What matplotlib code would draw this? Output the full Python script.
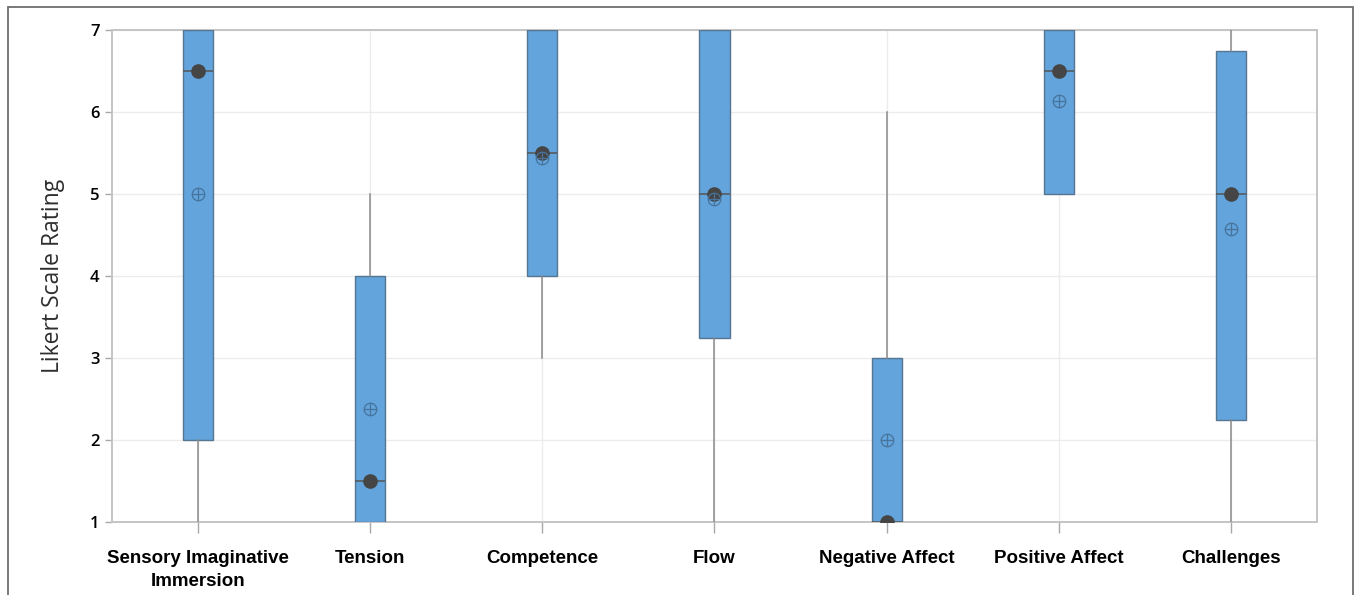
import numpy as np
import matplotlib.pyplot as plt
from matplotlib.patches import Rectangle

categories = ["Sensory Imaginative\nImmersion", "Tension", "Competence", "Flow",
              "Negative Affect", "Positive Affect", "Challenges"]
q1 = [2.0, 1.0, 4.0, 3.25, 1.0, 5.0, 2.25]
median = [6.5, 1.5, 5.5, 5.0, 1.0, 6.5, 5.0]
q3 = [7.0, 4.0, 7.0, 7.0, 3.0, 7.0, 6.75]
mean = [5.0, 2.38, 5.44, 4.94, 2.0, 6.13, 4.57]
whisker_low = [1.0, 1.0, 3.0, 1.0, 1.0, 5.0, 1.0]
whisker_high = [7.0, 5.0, 7.0, 7.0, 6.0, 7.0, 7.0]

box_face = "#62a4db"
box_edge = "#557590"
grid_c = "#ececec"
spine_c = "#c4c4c4"

fig = plt.figure(figsize=(13.56, 5.95), dpi=100)
ax = fig.add_axes([112 / 1356, 1 - 522 / 595, (1317 - 112) / 1356, (522 - 30) / 595])

# outer frame around the whole chart
fig.patches.append(Rectangle((8 / 1356, -0.05), (1353 - 8) / 1356, 1.05 - 7 / 595,
                             transform=fig.transFigure, fill=False,
                             edgecolor="#6e6e6e", lw=1.3, zorder=0))

pos = np.arange(len(categories))
stats = []
for i in range(len(categories)):
    stats.append(dict(q1=q1[i], med=median[i], q3=q3[i], mean=mean[i],
                      whislo=whisker_low[i], whishi=whisker_high[i], fliers=[]))

ax.bxp(stats, positions=pos, widths=0.175, patch_artist=True, showmeans=False,
       showcaps=False,
       boxprops=dict(facecolor=box_face, edgecolor=box_edge, lw=1.0),
       whiskerprops=dict(color="#8a8a8a", lw=1.1),
       medianprops=dict(color="#555555", lw=1.1),
       zorder=3)

ax.plot(pos, median, "o", color="#454545", ms=9.5, zorder=5)
ax.plot(pos, mean, "o", mfc="none", mec="#47739c", mew=0.9, ms=9, zorder=5)
ax.plot(pos, mean, "+", color="#47739c", mew=0.9, ms=9, zorder=5)

ax.set_xlim(-0.5, len(categories) - 0.5)
ax.set_ylim(1, 7)
ax.set_yticks(range(1, 8))
ax.set_xticks(pos)
ax.set_xticklabels(categories, family="Liberation Sans", fontweight="bold", fontsize=13.5,
                   linespacing=1.45)
for lbl in ax.get_yticklabels():
    lbl.set_family("Open Sans")
    lbl.set_fontweight("semibold")
    lbl.set_fontsize(12)

ax.grid(True, color=grid_c, lw=1.0, zorder=0)
ax.set_axisbelow(True)
for s in ax.spines.values():
    s.set_color(spine_c)
    s.set_linewidth(1.4)
ax.tick_params(axis="x", length=8, color="#a8a8a8", width=1.0, pad=12)
ax.tick_params(axis="y", length=5, color="#a8a8a8", width=1.0, pad=4)

ax.set_ylabel("Likert Scale Rating", family="Open Sans", fontsize=16.5, color="#2e2e2e",
              labelpad=18)

fig.savefig("out.png", dpi=100)
